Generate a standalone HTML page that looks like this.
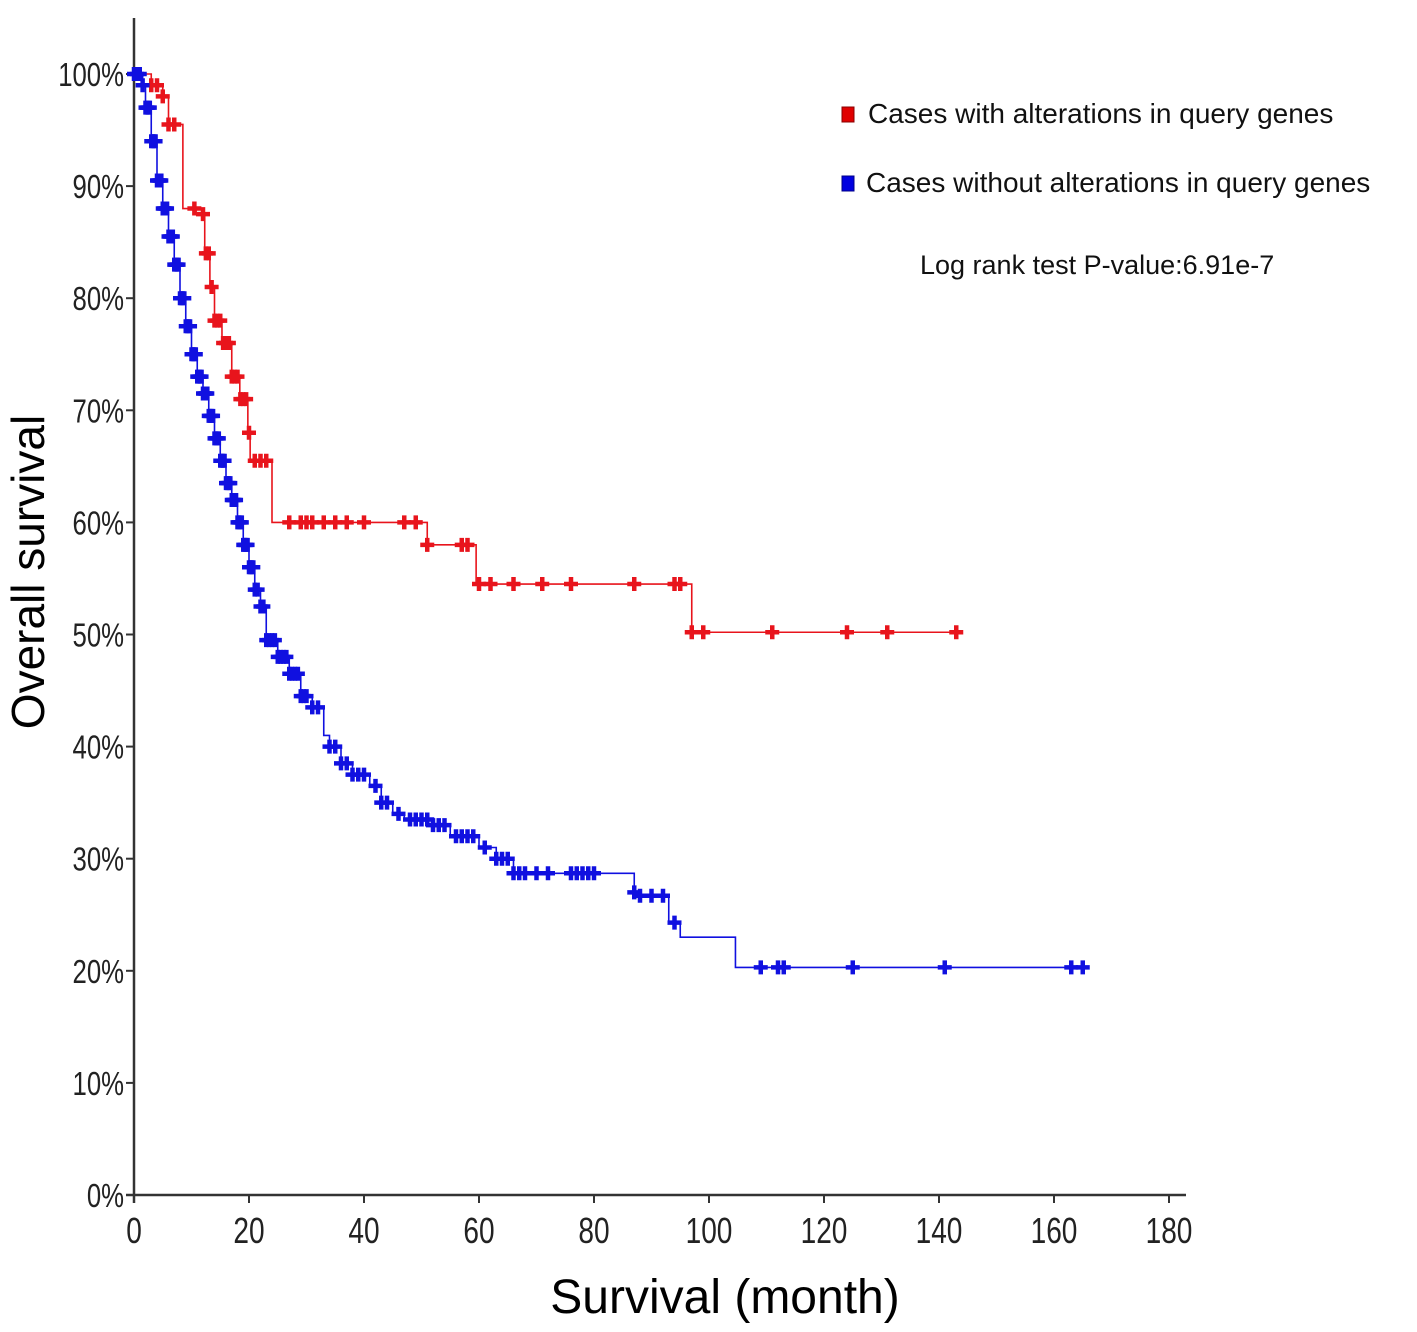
<!DOCTYPE html>
<html><head><meta charset="utf-8"><style>
body{margin:0;background:#fff;}
svg{display:block;font-family:"Liberation Sans",sans-serif;}
</style></head><body>
<svg id="chart" width="1417" height="1332" viewBox="0 0 1417 1332">
<g id="axes"></g>
<g id="series"></g>
<g>
<rect x="842" y="107" width="12" height="15" fill="#e00000" stroke="#800" stroke-width="1"/>
<text x="868" y="123" font-size="28" fill="#111">Cases with alterations in query genes</text>
<rect x="842" y="176" width="12" height="15" fill="#0000e0" stroke="#008" stroke-width="1"/>
<text x="866" y="192" font-size="28" fill="#111">Cases without alterations in query genes</text>
<text x="920" y="274" font-size="27" fill="#111">Log rank test P-value:6.91e-7</text>
</g>
<text transform="translate(44,572) rotate(-90)" text-anchor="middle" font-size="46" fill="#000">Overall survival</text>
<text x="725" y="1313" text-anchor="middle" font-size="48" fill="#000">Survival (month)</text>
</svg>
<script>
const xTicks=[0,20,40,60,80,100,120,140,160,180];
const yTicks=[0,10,20,30,40,50,60,70,80,90,100];
const redTimes=[0,3,5,6,8.5,10.8,12.3,13.2,14,15.3,17,18.4,19.8,20.2,24,51,59.5,97,143];
const redSurv=[100,99,98,95.5,88,87.5,84,81,78,76,73,71,68,65.5,60,58,54.5,50.2,50.2];
const redCens=[3,4,5,6,7,10.5,12,12.5,13,13.5,14,14.5,15,15.5,16,16.5,17,17.5,18,18.5,19,19.5,20,21,22,23,27,29,30,31,33,35,37,40,47,49,51,57,58,60,62,66,71,76,87,94,95,97,99,111,124,131,143];
const blueTimes=[0,1.5,2,3,4,5,6,7,8,9,10,11,12,13,14,15,16,17,18,19,20,21,22,23,25,27,29,31,33,34,36,38,41,43,45,47,52,55,60,63,66,87,88,93,95,104.6,166];
const blueSurv=[100,99,97,94,90.5,88,85.5,83,80,77.5,75,73,71.5,69.5,67.5,65.5,63.5,62,60,58,56,54,52.5,49.5,48,46.5,44.5,43.5,41,40,38.5,37.5,36.5,35,34,33.5,33,32,31,30,28.7,27,26.7,24.3,23,20.3,20.3];
const blueCens=[0,0.5,1,1.5,2,2.25,2.5,2.75,3,3.25,3.5,3.75,4,4.25,4.5,4.75,5,5.25,5.5,5.75,6,6.25,6.5,6.75,7,7.25,7.5,7.75,8,8.25,8.5,8.75,9,9.25,9.5,9.75,10,10.25,10.5,10.75,11,11.25,11.5,11.75,12,12.25,12.5,12.75,13,13.25,13.5,13.75,14,14.25,14.5,14.75,15,15.25,15.5,15.75,16,16.25,16.5,16.75,17,17.25,17.5,17.75,18,18.25,18.5,18.75,19,19.25,19.5,19.75,20,20.25,20.5,20.75,21,21.5,22,22.5,23,23.5,24,24.5,25,25.5,26,26.5,27,27.5,28,28.5,29,29.5,30,31,32,34,35,36,37,38,39,40,42,43,44,46,48,49,50,51,52,53,54,56,57,58,59,61,63,64,65,66,67,68,70,72,76,77,78,79,80,87,88,90,92,94,109,112,113,125,141,163,165];
const NS="http://www.w3.org/2000/svg";
const X=t=>134+t*5.75, Y=s=>1195-s*11.21;
function mk(tag,attrs,parent){const e=document.createElementNS(NS,tag);for(const k in attrs)e.setAttribute(k,attrs[k]);parent.appendChild(e);return e;}
const ax=document.getElementById('axes');
let l=mk('line',{x1:134,y1:18,x2:134,y2:1203,stroke:'#333','stroke-width':2.5},ax);


l=mk('line',{x1:126,y1:1195,x2:1186,y2:1195,stroke:'#333','stroke-width':2.5},ax);


xTicks.forEach(v=>{
 const t=mk('line',{x1:X(v),y1:1195,x2:X(v),y2:1203,stroke:'#333','stroke-width':2},ax);
 
 
 const tx=mk('text',{x:0,y:0,'font-size':36,'text-anchor':'middle',fill:'#222',transform:`translate(${X(v)},1243) scale(0.78,1)`},ax);
 tx.textContent=v;
 
 
});
yTicks.forEach(v=>{
 const t=mk('line',{x1:126,y1:Y(v),x2:134,y2:Y(v),stroke:'#333','stroke-width':2},ax);
 
 
 const tx=mk('text',{x:0,y:0,'font-size':33,'text-anchor':'end',fill:'#222',transform:`translate(124,${Y(v)+12}) scale(0.78,1)`},ax);
 tx.textContent=v+'%';
 
 
});
function survAt(times,surv,t){let s=surv[0];for(let i=0;i<times.length;i++){if(times[i]<=t)s=surv[i];}return s;}
function drawSeries(times,surv,cens,color,name){
 const g=document.getElementById('series');
 let d=`M${X(times[0])},${Y(surv[0])}`;
 for(let i=1;i<times.length;i++){d+=`H${X(times[i])}V${Y(surv[i])}`;}
 const p=mk('path',{d:d,fill:'none',stroke:color,'stroke-width':1.6},g);
 
 
 cens.forEach(c=>{
  const x=X(c),y=Y(survAt(times,surv,c));
  const m=mk('path',{d:`M${x-7},${y}H${x+7}M${x},${y-7}V${y+7}`,stroke:color,'stroke-width':4.5},g);
  
  
 });
}
drawSeries(redTimes,redSurv,redCens,'#e8141c','altered');
drawSeries(blueTimes,blueSurv,blueCens,'#1010e0','unaltered');
</script>
</body></html>
